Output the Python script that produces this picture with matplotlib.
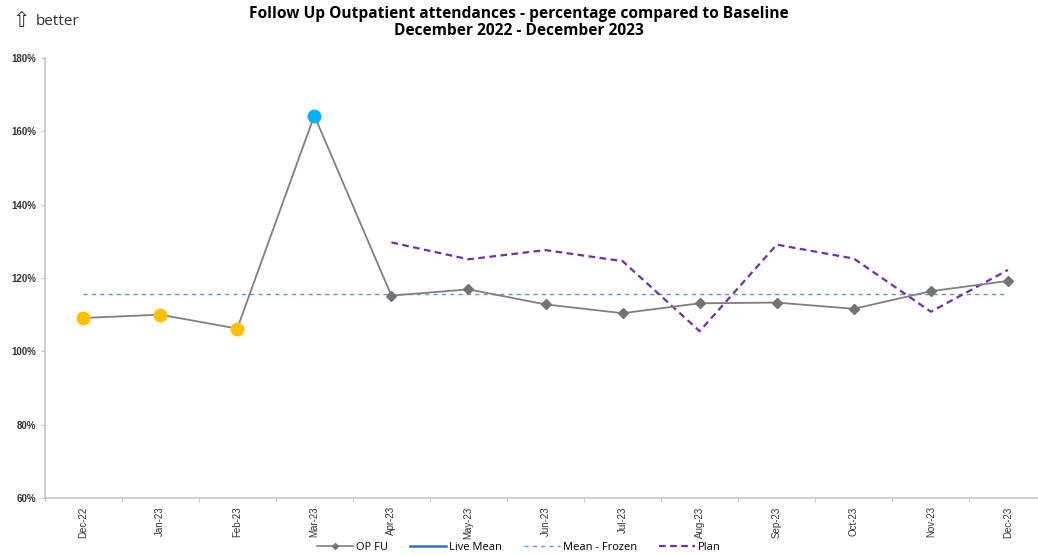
import numpy as np
import matplotlib.pyplot as plt
from matplotlib.lines import Line2D
from matplotlib.ticker import PercentFormatter

months = ["Dec-22", "Jan-23", "Feb-23", "Mar-23", "Apr-23", "May-23", "Jun-23",
          "Jul-23", "Aug-23", "Sep-23", "Oct-23", "Nov-23", "Dec-23"]
op_fu = [109.1, 110.0, 106.2, 164.3, 115.2, 116.9, 112.8,
         110.4, 113.1, 113.3, 111.6, 116.4, 119.2]
mean_frozen = 115.6
plan = [None, None, None, None, 129.7, 125.1, 127.6,
        124.6, 105.5, 129.1, 125.3, 110.8, 122.2]
# special-cause highlights: low run (amber) and high point (blue)
low_idx = [0, 1, 2]
high_idx = [3]

GREY = "#7f7f7f"
AMBER = "#FFC000"
SKY = "#00B0F0"
FROZEN = "#5B9BD5"
LIVE = "#2E75B6"
PURPLE = "#7030A0"

plt.rcParams["font.family"] = ["Liberation Sans", "DejaVu Sans"]

fig = plt.figure(figsize=(10.38, 5.56), dpi=100)
ax = fig.add_axes([0.0429, 0.1043, 0.9653, 0.7914])

x = np.arange(len(months))
ax.plot(x, op_fu, color=GREY, linewidth=1.3, marker="D", markersize=5,
        markerfacecolor="#737373", markeredgecolor="#737373", zorder=3)
ax.plot(x[low_idx], [op_fu[i] for i in low_idx], "o", color=AMBER,
        markersize=9, markeredgecolor=AMBER, zorder=4)
ax.plot(x[high_idx], [op_fu[i] for i in high_idx], "o", color=SKY,
        markersize=9, markeredgecolor=SKY, zorder=4)
ax.plot([x[0], x[-1]], [mean_frozen, mean_frozen], color=FROZEN,
        linewidth=1.0, linestyle=(0, (3, 3)), zorder=2)

px = [i for i, v in enumerate(plan) if v is not None]
py = [plan[i] for i in px]
ax.plot(px, py, color=PURPLE, linewidth=1.6, linestyle=(0, (3, 2)), zorder=2)

ax.set_xlim(-0.5, len(months) - 0.5)
ax.set_ylim(60, 180)
ax.set_yticks(np.arange(60, 181, 20))
ax.yaxis.set_major_formatter(PercentFormatter(decimals=0))
ax.set_xticks(x)
ax.set_xticklabels(months, rotation=90, fontsize=7, color="#333333")
ax.set_xticks(np.arange(-0.5, len(months), 1), minor=True)
ax.tick_params(axis="x", which="major", length=0, pad=6)
ax.tick_params(axis="x", which="minor", length=3, color="#bfbfbf")
ax.tick_params(axis="y", length=3, color="#bfbfbf", labelsize=7, pad=3,
               labelcolor="#333333")
for lbl in ax.get_yticklabels():
    lbl.set_fontweight("bold")

for side in ["top", "right"]:
    ax.spines[side].set_visible(False)
for side in ["left", "bottom"]:
    ax.spines[side].set_color("#c8c8c8")
    ax.spines[side].set_linewidth(1.2)

fig.text(0.5, 0.990, "Follow Up Outpatient attendances - percentage compared to Baseline\n"
         "December 2022 - December 2023", ha="center", va="top",
         fontsize=11.2, fontweight="bold", family="Open Sans", linespacing=1.08)
fig.text(0.012, 0.962, "\u21e7", ha="left", va="center", fontsize=15,
         family=["DejaVu Sans"], color="#333333")
fig.text(0.034, 0.962, "better", ha="left", va="center", fontsize=11,
         family="Open Sans", color="#333333")

handles = [
    Line2D([], [], color=GREY, linewidth=1.2, marker="D", markersize=3,
           markerfacecolor="#737373", markeredgecolor="#737373"),
    Line2D([], [], color=LIVE, linewidth=1.8),
    Line2D([], [], color=FROZEN, linewidth=1.0, linestyle=(0, (3, 3))),
    Line2D([], [], color=PURPLE, linewidth=1.6, linestyle=(0, (3, 2))),
]
fig.legend(handles, ["OP FU", "Live Mean", "Mean - Frozen", "Plan"],
           loc="center", bbox_to_anchor=(0.5, 0.016), ncol=4, frameon=False,
           prop={"family": "Open Sans", "size": 8}, handlelength=3.2,
           columnspacing=2.0, handletextpad=0.3)

fig.savefig("out.png", dpi=100)
